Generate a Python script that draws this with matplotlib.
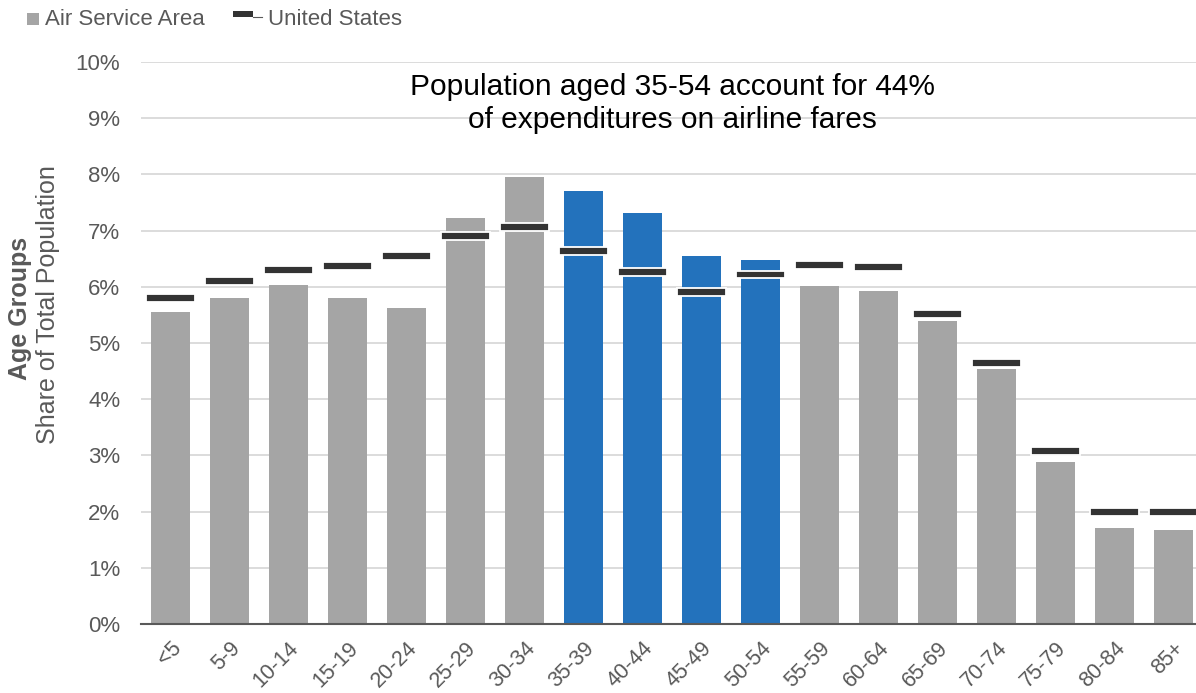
import numpy as np
import matplotlib.pyplot as plt
from matplotlib.patches import Rectangle
from matplotlib.lines import Line2D
from matplotlib.ticker import PercentFormatter

plt.rcParams['font.family'] = ['Liberation Sans', 'DejaVu Sans']

# age brackets and population shares
age_groups = ['<5', '5-9', '10-14', '15-19', '20-24', '25-29', '30-34', '35-39', '40-44',
              '45-49', '50-54', '55-59', '60-64', '65-69', '70-74', '75-79', '80-84', '85+']
service_area = [0.0555, 0.0580, 0.0603, 0.0580, 0.0562, 0.0722, 0.0795, 0.0770, 0.0731,
                0.0654, 0.0648, 0.0601, 0.0592, 0.0539, 0.0454, 0.0288, 0.0171, 0.0167]
united_states = [0.0580, 0.0610, 0.0630, 0.0637, 0.0655, 0.0690, 0.0706, 0.0663, 0.0627,
                 0.0590, 0.0622, 0.0639, 0.0635, 0.0551, 0.0464, 0.0308, 0.0199, 0.0199]
highlight = ['35-39', '40-44', '45-49', '50-54']

gray = '#A5A5A5'
blue = '#2372BC'
dark = '#333333'
text_gray = '#595959'

W, H = 1196, 693
fig = plt.figure(figsize=(W / 100, H / 100), dpi=100)
ax = fig.add_axes([141 / W, 69 / H, 1062 / W, 562 / H])

x = np.arange(len(age_groups))
colors = [blue if g in highlight else gray for g in age_groups]
ax.bar(x, service_area, width=0.66, color=colors, zorder=2)

# US share drawn as short thick dashes across each bar
mark_h = 0.0014
ax.bar(x, [mark_h] * len(x), bottom=np.array(united_states) - mark_h / 2, width=0.82,
       color=dark, edgecolor='white', linewidth=1.3, zorder=3)

ax.set_xlim(-0.5, 17.5)
ax.set_ylim(0, 0.10)
ax.set_yticks(np.arange(0, 0.101, 0.01))
ax.yaxis.set_major_formatter(PercentFormatter(1.0, decimals=0))
ax.grid(axis='y', color='#D9D9D9', linewidth=1.3, zorder=0)
ax.set_axisbelow(True)

ax.set_xticks(x)
ax.set_xticklabels(age_groups, rotation=45, ha='right', rotation_mode='anchor')
ax.tick_params(axis='x', length=0, labelsize=15.5, labelcolor=text_gray, pad=10)
ax.tick_params(axis='y', length=0, labelsize=16, labelcolor=text_gray, pad=15)
for s in ['top', 'right', 'left']:
    ax.spines[s].set_visible(False)
ax.spines['bottom'].set_color(text_gray)
ax.spines['bottom'].set_linewidth(1.5)

fig.text(20 / W, 1 - 308 / H, 'Age Groups', rotation=90, ha='center', va='center',
         fontsize=18, fontweight='bold', color=text_gray)
fig.text(48 / W, 1 - 305 / H, 'Share of Total Population', rotation=90, ha='center',
         va='center', fontsize=18, color=text_gray)

# annotation inside the plot area
fig.text(672 / W, 1 - 95 / H, 'Population aged 35-54 account for 44%', ha='center',
         va='baseline', fontsize=21.5, color='black')
fig.text(672 / W, 1 - 128 / H, 'of expenditures on airline fares', ha='center',
         va='baseline', fontsize=21.5, color='black')

# legend row along the top edge
fig.add_artist(Rectangle((27 / W, 1 - 25 / H), 12 / W, 12 / H, transform=fig.transFigure,
                         facecolor=gray, edgecolor='none'))
fig.text(45 / W, 1 - 19.5 / H, 'Air Service Area', ha='left', va='center', fontsize=16,
         color=text_gray)
fig.add_artist(Rectangle((233 / W, 1 - 17 / H), 20 / W, 6 / H, transform=fig.transFigure,
                         facecolor=dark, edgecolor='none'))
fig.add_artist(Line2D([253 / W, 262 / W], [1 - 17 / H, 1 - 17 / H], transform=fig.transFigure,
                      color=text_gray, linewidth=0.8))
fig.text(268 / W, 1 - 19.5 / H, 'United States', ha='left', va='center', fontsize=16,
         color=text_gray)

fig.savefig('out.png', dpi=100)
